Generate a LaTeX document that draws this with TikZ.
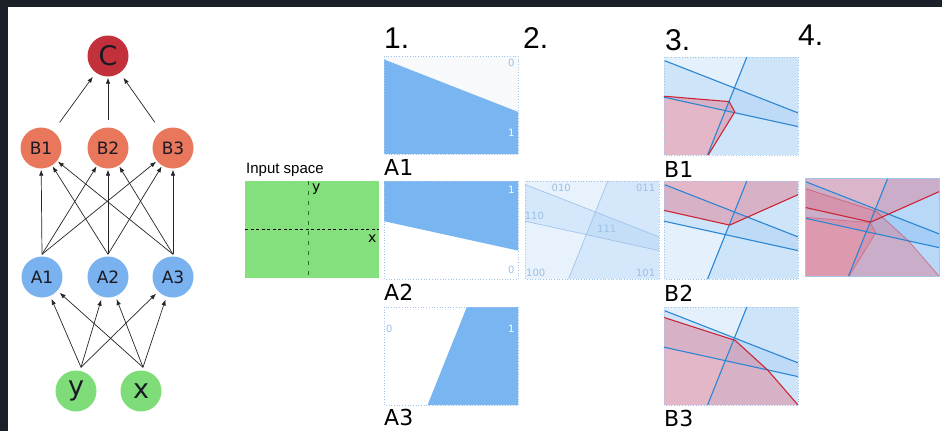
\documentclass[tikz,border=0pt]{standalone}
\usepackage{fontspec}
\setmainfont{DejaVu Sans}
\newfontfamily\lib{Liberation Sans}
\usetikzlibrary{arrows.meta,calc}
\definecolor{bgdark}{HTML}{1B2029}
\definecolor{cred}{HTML}{C2313B}
\definecolor{bsal}{HTML}{E8775C}
\definecolor{ablue}{HTML}{79B2EE}
\definecolor{ngreen}{HTML}{7EDC79}
\definecolor{igreen}{HTML}{84E07C}
\definecolor{pblue}{HTML}{79B5F1}
\definecolor{frame}{HTML}{A3C5EA}
\definecolor{lbl}{HTML}{9CC0E8}
\definecolor{lineb}{HTML}{2B86D3}
\definecolor{liner}{HTML}{CC2636}
\definecolor{redf}{HTML}{E27388}
\definecolor{txt}{HTML}{1A1A24}
\definecolor{dgreen}{HTML}{2D6B2D}
\definecolor{offwhite}{HTML}{F8F9FB}
\newcommand\regA[1]{\fill[#1] (0,0.035) -- (1,0.57) -- (1,1) -- (0,1) -- cycle;}
\newcommand\regB[1]{\fill[#1] (0,0) -- (1,0) -- (1,0.71) -- (0,0.41) -- cycle;}
\newcommand\regC[1]{\fill[#1] (0.618,0) -- (1,0) -- (1,1) -- (0.325,1) -- cycle;}
\newcommand\lnA[1]{\draw[#1] (0,0.035) -- (1,0.57);}
\newcommand\lnB[1]{\draw[#1] (0,0.41) -- (1,0.71);}
\newcommand\lnC[1]{\draw[#1] (0.618,0) -- (0.325,1);}
\newcommand\redOne[1]{\fill[#1] (0,0.40) -- (0.486,0.455) -- (0.528,0.56) -- (0.33,1) -- (0,1) -- cycle;}
\newcommand\redTwo[1]{\fill[#1] (0,0) -- (1,0) -- (1,0.14) -- (0.49,0.45) -- (0,0.30) -- cycle;}
\newcommand\redThree[1]{\fill[#1] (0,0.107) -- (0.53,0.34) -- (0.775,0.645) -- (1,1) -- (0,1) -- cycle;}
\newcommand\redLnOne[1]{\draw[#1] (0,0.40) -- (0.486,0.455) -- (0.528,0.56) -- (0.33,1);}
\newcommand\redLnTwo[1]{\draw[#1] (0,0.30) -- (0.49,0.45) -- (1,0.14);}
\newcommand\redLnThree[1]{\draw[#1] (0,0.107) -- (0.53,0.34) -- (0.775,0.645) -- (1,1);}
\newcommand\bframe{\draw[frame,line width=0.7pt,dotted] (0,0) rectangle (1,1);}
\newcommand\blueshade[1]{\regA{pblue,opacity=#1}\regB{pblue,opacity=#1}\regC{pblue,opacity=#1}}
\newcommand\bluelines{\lnA{lineb,line width=1.1pt}\lnB{lineb,line width=1.1pt}\lnC{lineb,line width=1.1pt}}
\begin{document}
\begin{tikzpicture}[x=1pt,y=-1pt,
  neuron/.style={circle,minimum size=41pt,inner sep=0pt,text=txt},
  nodeC/.style={neuron,fill=cred,font=\fontsize{27}{27}\selectfont},
  nodeB/.style={neuron,fill=bsal,font=\fontsize{17}{17}\selectfont},
  nodeA/.style={neuron,fill=ablue,font=\fontsize{17}{17}\selectfont},
  nodeI/.style={neuron,fill=ngreen,font=\fontsize{27}{27}\selectfont},
  arr/.style={draw=black!85,line width=0.7pt,-{Latex[length=6pt,width=4.5pt]},shorten >=2pt},
  stepnum/.style={anchor=base west,inner sep=0pt,font=\lib\fontsize{30}{30}\selectfont,text=black},
  plabel/.style={anchor=base west,inner sep=0pt,font=\fontsize{22}{22}\selectfont,text=black},
  small/.style={inner sep=0pt,font=\fontsize{10}{10}\selectfont},
]
\useasboundingbox (0,0) rectangle (942,431);
\fill[bgdark] (0,0) rectangle (942,431);
\fill[white] (8,7) rectangle (942,431);

% ---------------- network ----------------
\node[nodeC] (C) at (108,56) {C};
\node[nodeB] (B1) at (41,148) {B1};
\node[nodeB] (B2) at (108,148) {B2};
\node[nodeB] (B3) at (173,148) {B3};
\node[nodeA] (A1) at (42,277) {A1};
\node[nodeA] (A2) at (108,277) {A2};
\node[nodeA] (A3) at (173,277) {A3};
\node[nodeI] (ny) at (76,391) {y};
\node[nodeI] (nx) at (141,391) {x};
\coordinate (ys) at ($(ny.north)+(5,-3)$);
\coordinate (xs) at ($(nx.north)+(2,-3)$);
\coordinate (a1s) at ($(A1.north)+(0,-2)$);
\coordinate (a2s) at ($(A2.north)+(0,-2)$);
\coordinate (a3s) at ($(A3.north)+(0,-2)$);

\draw[arr,shorten <=11pt,shorten >=5pt] (B1) -- (C);
\draw[arr,shorten <=7pt,shorten >=1pt] (B2) -- (C);
\draw[arr,shorten <=11pt,shorten >=6pt] (B3) -- (C);
\foreach \s in {a1s,a2s,a3s}{
  \foreach \t in {B1,B2,B3}{
    \draw[arr,shorten >=1pt] (\s) -- (\t);
  }
}
\foreach \s in {ys,xs}{
  \foreach \t in {A1,A2,A3}{
    \draw[arr,shorten >=3pt] (\s) -- (\t);
  }
}

% ---------------- step numbers ----------------
\node[stepnum] (n1) at (384,48) {1.};
\node[stepnum] (n2) at (523,48) {2.};
\node[stepnum] (n3) at (665,50) {3.};
\node[stepnum] (n4) at (798,45) {4.};

% ---------------- input space ----------------
\node[anchor=base west,inner sep=0pt,font=\lib\fontsize{15}{15}\selectfont] (inlab) at (246,173) {Input space};
\fill[igreen] (245,181) rectangle (379,278);
\draw[dgreen,line width=1.3pt,dash pattern=on 4pt off 6pt] (308.5,181) -- (308.5,278);
\draw[black,line width=0.8pt,dash pattern=on 3pt off 2.5pt] (245,229.5) -- (379,229.5);
\node[anchor=base west,inner sep=0pt,font=\fontsize{14}{14}\selectfont] (ylab) at (312,191) {y};
\node[anchor=base west,inner sep=0pt,font=\fontsize{14}{14}\selectfont] (xlab) at (368,242) {x};

% ---------------- A1 ----------------
\begin{scope}[shift={(384,56)},x=134pt,y=-98pt]
  \fill[offwhite] (0,0) rectangle (1,1);
  \regA{pblue}
  \bframe
  \node[small,text=lbl] (a1z) at (0.95,0.07) {0};
  \node[small,text=white] (a1o) at (0.95,0.78) {1};
\end{scope}
\node[plabel] (lA1) at (384,175) {A1};
% ---------------- A2 ----------------
\begin{scope}[shift={(384,181)},x=134pt,y=-98pt]
  \regB{pblue}
  \bframe
  \node[small,text=white] (a2o) at (0.95,0.09) {1};
  \node[small,text=lbl] (a2z) at (0.95,0.91) {0};
\end{scope}
\node[plabel] (lA2) at (384,300) {A2};
% ---------------- A3 ----------------
\begin{scope}[shift={(384,307)},x=134pt,y=-98pt]
  \regC{pblue}
  \bframe
  \node[small,text=lbl] (a3z) at (0.04,0.22) {0};
  \node[small,text=white] (a3o) at (0.95,0.22) {1};
\end{scope}
\node[plabel] (lA3) at (384,425) {A3};

% ---------------- panel 2 ----------------
\begin{scope}[shift={(525,181)},x=134pt,y=-98pt]
  \blueshade{0.17}
  \lnA{lbl,line width=0.6pt}\lnB{lbl,line width=0.6pt}\lnC{lbl,line width=0.6pt}
  \bframe
  \begin{scope}[every node/.style={small,text=lbl}]
  \node (c010) at (0.27,0.07) {010};
  \node (c011) at (0.90,0.07) {011};
  \node (c110) at (0.07,0.36) {110};
  \node (c111) at (0.61,0.49) {111};
  \node (c100) at (0.08,0.94) {100};
  \node (c101) at (0.90,0.94) {101};
  \end{scope}
\end{scope}

% ---------------- B1 ----------------
\begin{scope}[shift={(664,57)},x=134pt,y=-98pt]
  \blueshade{0.2}
  \redOne{redf,opacity=0.45}
  \bluelines
  \redLnOne{liner,line width=1.1pt}
  \bframe
\end{scope}
\node[plabel] (lB1) at (664,177) {B1};
% ---------------- B2 ----------------
\begin{scope}[shift={(664,181)},x=134pt,y=-98pt]
  \blueshade{0.2}
  \redTwo{redf,opacity=0.45}
  \bluelines
  \redLnTwo{liner,line width=1.1pt}
  \bframe
\end{scope}
\node[plabel] (lB2) at (664,301) {B2};
% ---------------- B3 ----------------
\begin{scope}[shift={(664,307)},x=134pt,y=-98pt]
  \blueshade{0.2}
  \redThree{redf,opacity=0.45}
  \bluelines
  \redLnThree{liner,line width=1.1pt}
  \bframe
\end{scope}
\node[plabel] (lB3) at (664,426) {B3};

% ---------------- panel 4 ----------------
\begin{scope}[shift={(805,178)},x=134pt,y=-98pt]
  \blueshade{0.3}
  \redOne{redf,opacity=0.42}
  \redTwo{redf,opacity=0.42}
  \redThree{redf,opacity=0.42}
  \bluelines
  \redLnOne{liner,line width=0.8pt,opacity=0.35}
  \redLnThree{liner,line width=0.8pt,opacity=0.45}
  \redLnTwo{liner,line width=1.1pt}
  \draw[frame,line width=0.8pt] (0,0) rectangle (1,1);
\end{scope}
\end{tikzpicture}
\end{document}
